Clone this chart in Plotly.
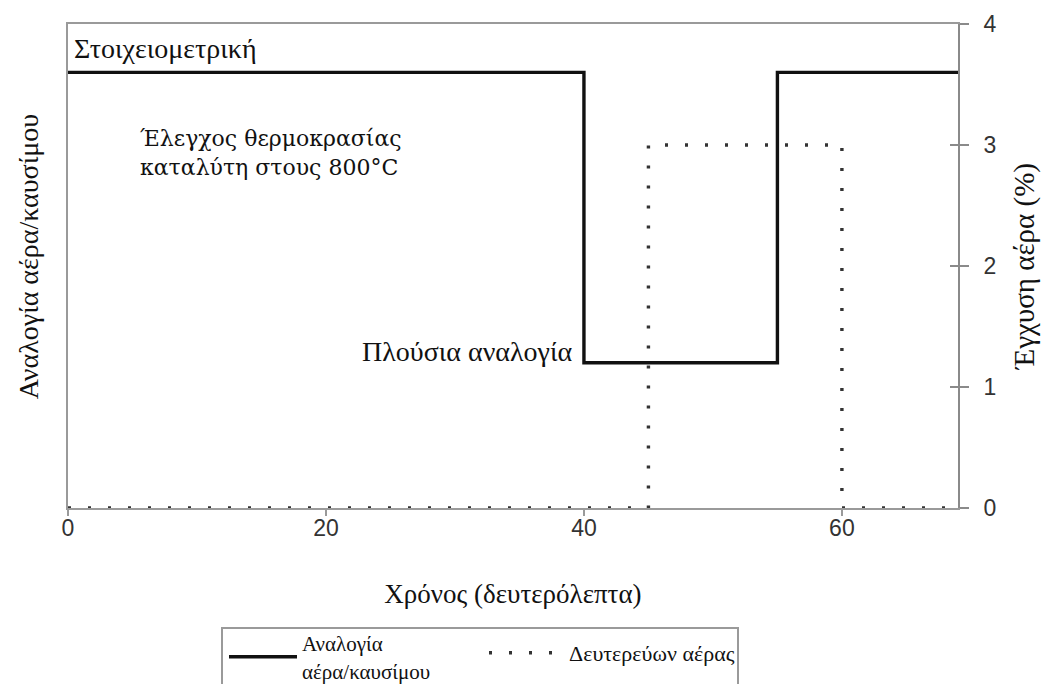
import plotly.graph_objects as go

# Data
ratio_t = [0, 40, 55, 69]
ratio_v = [3.6, 1.2, 3.6, 3.6]
air_t = [0, 45, 60, 69]
air_v = [0, 3, 0, 0]
x_ticks = [0, 20, 40, 60]
y_ticks = [0, 1, 2, 3, 4]

serif = "Liberation Serif, Times New Roman, serif"
wide_serif = "DejaVu Serif, serif"
sans = "Liberation Sans, Arial, sans-serif"
ink = "#111111"

W, H = 1041, 684
ML, MR, MT, MB = 68, 83, 24, 176
PW, PH = W - ML - MR, H - MT - MB

fig = go.Figure()
fig.add_trace(go.Scatter(
    x=ratio_t, y=ratio_v, mode="lines", line_shape="hv",
    line=dict(color=ink, width=3.4),
    name="Αναλογία<br>αέρα/καυσίμου", legend="legend"))
fig.add_trace(go.Scatter(
    x=air_t, y=air_v, mode="lines", line_shape="hv",
    line=dict(color="#333333", width=3.4, dash="3px,17px"),
    name="Δευτερεύων αέρας", legend="legend2"))

fig.update_layout(
    width=W, height=H,
    margin=dict(l=ML, r=MR, t=MT, b=MB),
    paper_bgcolor="white", plot_bgcolor="white",
    showlegend=True,
    xaxis=dict(range=[0, 69], tickvals=x_ticks, showgrid=False, zeroline=False,
               automargin=False,
               showline=True, linecolor="#9a9a9a", linewidth=2, mirror=True,
               ticks="", ticklabelstandoff=-2,
               tickfont=dict(family=sans, size=23, color="#333333"),
               title=dict(text="Χρόνος (δευτερόλεπτα)",
                          font=dict(family=serif, size=27, color=ink),
                          standoff=45)),
    xaxis2=dict(range=[0, 69], tickvals=x_ticks, overlaying="x", anchor="y",
                side="bottom", showgrid=False, zeroline=False, showline=False,
                automargin=False, showticklabels=False,
                ticks="outside", ticklen=7, tickwidth=2, tickcolor="#9a9a9a"),
    yaxis=dict(range=[0, 4], showticklabels=False, ticks="", showgrid=False,
               automargin=False,
               zeroline=False, showline=True, linecolor="#9a9a9a", linewidth=2),
    yaxis2=dict(range=[0, 4], tickvals=y_ticks, overlaying="y", side="right",
                anchor="x", automargin=False,
                showgrid=False, zeroline=False, showline=True,
                linecolor="#8a8a8a", linewidth=2,
                ticks="outside", ticklen=9, tickwidth=2, tickcolor="#8a8a8a",
                ticklabelstandoff=10,
                tickfont=dict(family=sans, size=23, color="#333333"),
                title=dict(text="Έγχυση αέρα (%)",
                           font=dict(family=serif, size=29, color=ink),
                           standoff=22)),
    yaxis3=dict(range=[0, 4], tickvals=y_ticks, overlaying="y", side="right",
                anchor="x", automargin=False, showticklabels=False,
                showgrid=False, zeroline=False, showline=False,
                ticks="inside", ticklen=8, tickwidth=2, tickcolor="#8a8a8a"),
    legend=dict(orientation="h", xref="container", yref="container",
                x=224 / W, y=1 - 623 / H, xanchor="left", yanchor="top",
                borderwidth=0, bgcolor="rgba(0,0,0,0)",
                font=dict(family=serif, size=21, color=ink),
                itemwidth=68),
    legend2=dict(orientation="h", xref="container", yref="container",
                 x=484 / W, y=1 - 632 / H, xanchor="left", yanchor="top",
                 borderwidth=0, bgcolor="rgba(0,0,0,0)",
                 font=dict(family=serif, size=22, color=ink),
                 itemwidth=75),
)

# legend frame (runs past the bottom edge as in the reference)
fig.add_shape(type="rect", xref="paper", yref="paper",
              x0=(222 - ML) / PW, x1=(738 - ML) / PW,
              y0=(MT + PH - 700) / PH, y1=(MT + PH - 628) / PH,
              line=dict(color="#9a9a9a", width=2), fillcolor="rgba(0,0,0,0)",
              layer="below")

# invisible helper traces so overlay axes are drawn
fig.add_trace(go.Scatter(x=[None], y=[None], xaxis="x2", yaxis="y2",
                         showlegend=False, hoverinfo="skip"))
fig.add_trace(go.Scatter(x=[None], y=[None], xaxis="x", yaxis="y3",
                         showlegend=False, hoverinfo="skip"))

fig.add_annotation(x=-0.045, y=0.52, xref="paper", yref="paper",
                   text="Αναλογία αέρα/καυσίμου", textangle=-90,
                   showarrow=False, xanchor="center", yanchor="middle",
                   font=dict(family=serif, size=28, color=ink))
fig.add_annotation(x=0.005, y=3.8, xref="paper", yref="y", text="Στοιχειομετρική",
                   showarrow=False, xanchor="left", yanchor="middle",
                   font=dict(family=serif, size=28, color=ink))
fig.add_annotation(x=5.4, y=2.93, xref="x", yref="y",
                   text="Έλεγχος θερμοκρασίας<br>καταλύτη στους 800°C",
                   showarrow=False, xanchor="left", yanchor="middle", align="left",
                   font=dict(family=wide_serif, size=22, color=ink))
fig.add_annotation(x=39.2, y=1.29, xref="x", yref="y", text="Πλούσια αναλογία",
                   showarrow=False, xanchor="right", yanchor="middle",
                   font=dict(family=serif, size=28, color=ink))

fig.write_html("out.html", config={"displayModeBar": False},
               post_script="document.body.style.margin='0';")
